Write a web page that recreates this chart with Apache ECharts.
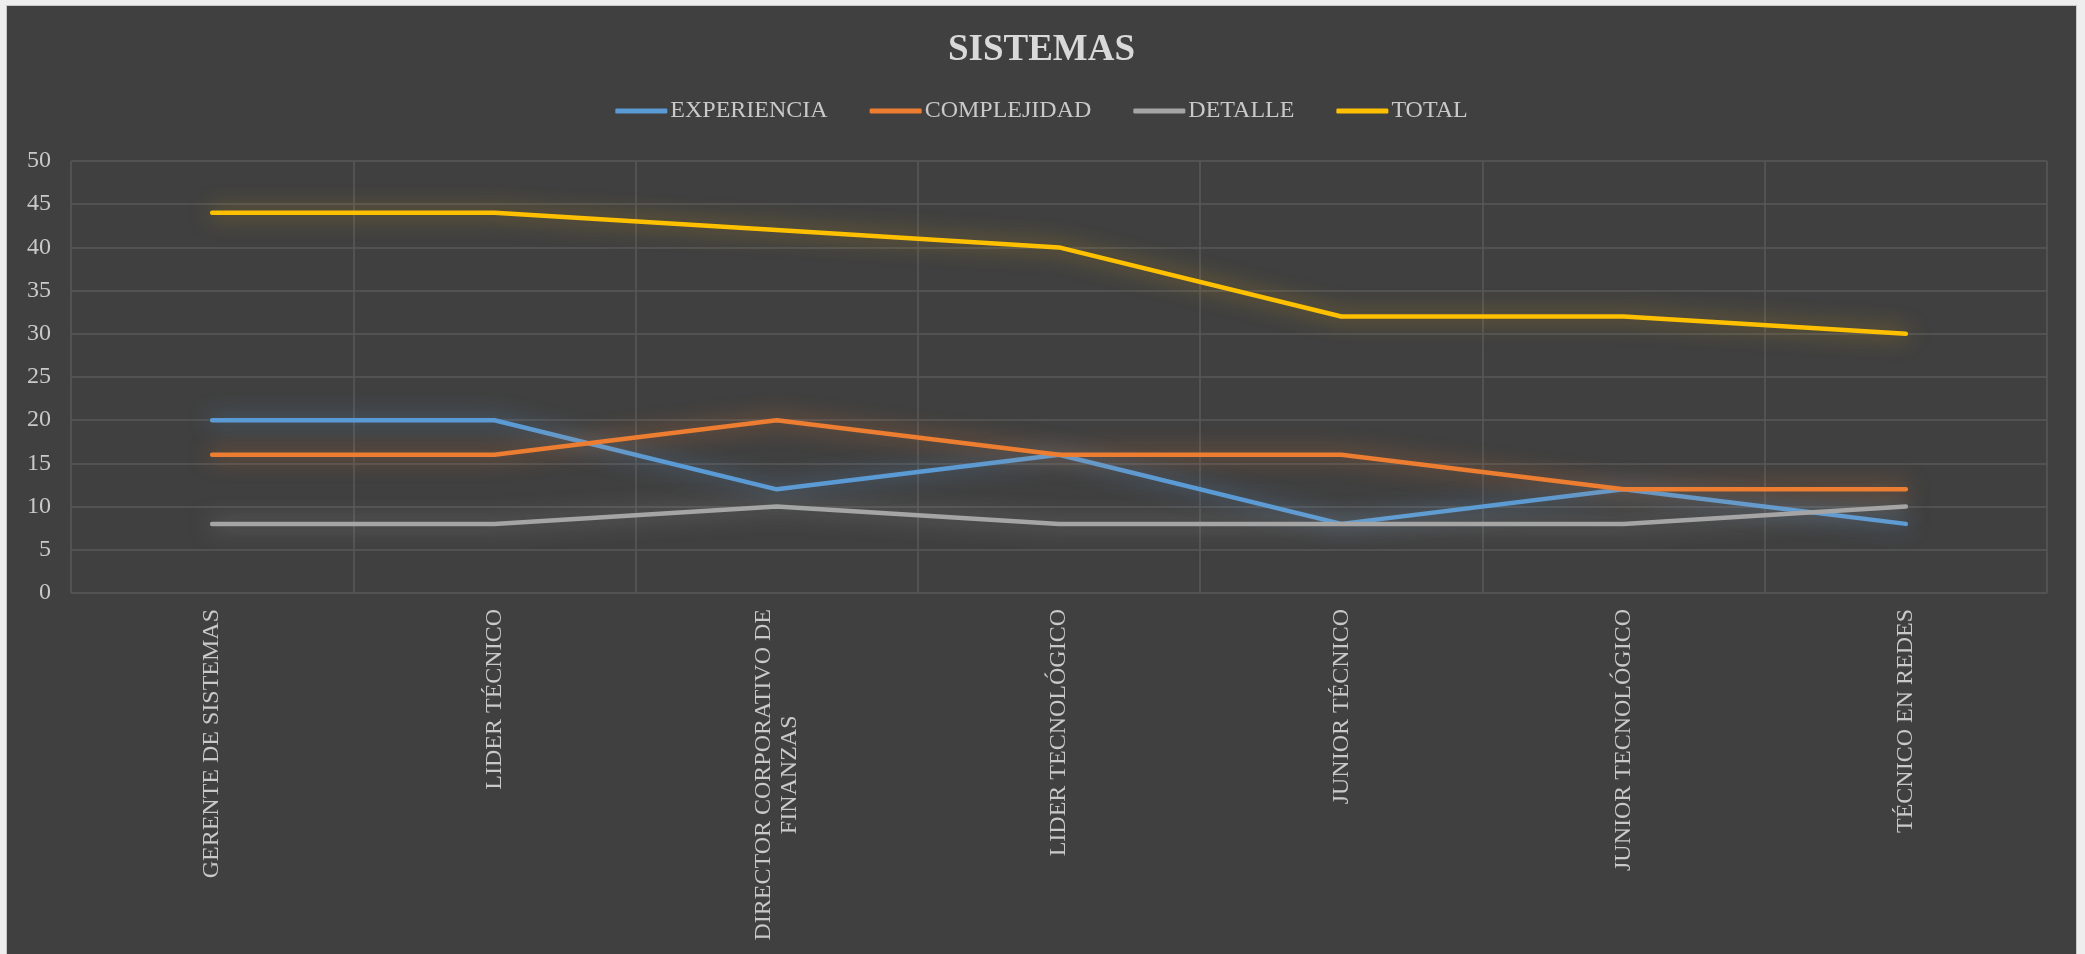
<!DOCTYPE html>
<html>
<head>
<meta charset="utf-8">
<title>SISTEMAS</title>
<script src="https://cdn.jsdelivr.net/npm/echarts@6/dist/echarts.min.js"></script>
<style>
  html, body { margin: 0; padding: 0; background: #eeeeee; width: 2085px; height: 954px; overflow: hidden; }
  #chart { position: absolute; left: 6px; top: 5px; width: 2071px; height: 949px; border-left: 1px solid #c8c8c8; border-top: 1px solid #c8c8c8; border-right: 1px solid #c8c8c8; box-sizing: border-box; }
</style>
</head>
<body>
<div id="chart"></div>
<script>
// Puestos del área de sistemas
const categories = [
  'GERENTE DE SISTEMAS',
  'LIDER TÉCNICO',
  'DIRECTOR CORPORATIVO DE\nFINANZAS',
  'LIDER TECNOLÓGICO',
  'JUNIOR TÉCNICO',
  'JUNIOR TECNOLÓGICO',
  'TÉCNICO EN REDES'
];

// Puntajes por criterio
const experiencia = [20, 20, 12, 16, 8, 12, 8];
const complejidad = [16, 16, 20, 16, 16, 12, 12];
const detalle     = [8, 8, 10, 8, 8, 8, 10];
const total       = [44, 44, 42, 40, 32, 32, 30];

const seriesNames = ['EXPERIENCIA', 'COMPLEJIDAD', 'DETALLE', 'TOTAL'];
const seriesColors = ['#5B9BD5', '#ED7D31', '#A5A5A5', '#FFC000'];
const glowColors = ['rgba(91,155,213,0.7)', 'rgba(237,125,49,0.7)', 'rgba(190,190,190,0.55)', 'rgba(255,192,0,0.55)'];
const seriesData = [experiencia, complejidad, detalle, total];

const FONT = '"Liberation Serif", "Times New Roman", serif';
const TEXT = '#c9c9c9';

const chart = echarts.init(document.getElementById('chart'), null, { renderer: 'canvas' });

chart.setOption({
  backgroundColor: '#404040',
  animation: false,
  title: {
    text: 'SISTEMAS',
    left: 'center',
    top: 21,
    textStyle: { fontFamily: FONT, fontSize: 37, fontWeight: 'bold', color: '#d9d9d9' }
  },
  legend: {
    data: seriesNames,
    top: 88,
    left: 'center',
    icon: 'roundRect',
    itemWidth: 52,
    itemHeight: 5,
    itemGap: 42,
    textStyle: { fontFamily: FONT, fontSize: 24, color: TEXT, padding: [0, 0, 0, -2] }
  },
  grid: { left: 64, right: 29, top: 155, bottom: 361, containLabel: false },
  xAxis: {
    type: 'category',
    data: categories,
    boundaryGap: true,
    axisLine: { show: false },
    axisTick: { show: false },
    splitLine: { show: true, interval: 0, lineStyle: { color: '#585858', width: 1.5 } },
    axisLabel: {
      interval: 0,
      rotate: 90,
      margin: 16,
      color: TEXT,
      fontFamily: FONT,
      fontSize: 24,
      lineHeight: 26,
      formatter: function (v) {
        return v.split('\n').map(function (s) { return '{c|' + s + '}'; }).join('\n');
      },
      rich: {
        c: { align: 'center', color: TEXT, fontFamily: FONT, fontSize: 24, lineHeight: 26 }
      }
    }
  },
  yAxis: {
    type: 'value',
    min: 0,
    max: 50,
    interval: 5,
    axisLine: { show: false },
    axisTick: { show: false },
    splitLine: { show: true, lineStyle: { color: '#585858', width: 1.5 } },
    axisLabel: { margin: 20, color: TEXT, fontFamily: FONT, fontSize: 24 }
  },
  series: seriesNames.map(function (name, i) {
    return {
      name: name,
      type: 'line',
      data: seriesData[i],
      symbol: 'none',
      smooth: false,
      color: seriesColors[i],
      lineStyle: {
        width: 4.5,
        color: seriesColors[i],
        cap: 'round',
        join: 'round',
        shadowBlur: 22,
        shadowColor: glowColors[i]
      },
      z: 2 + (i === 3 ? 1 : 0)
    };
  })
});
</script>
</body>
</html>
